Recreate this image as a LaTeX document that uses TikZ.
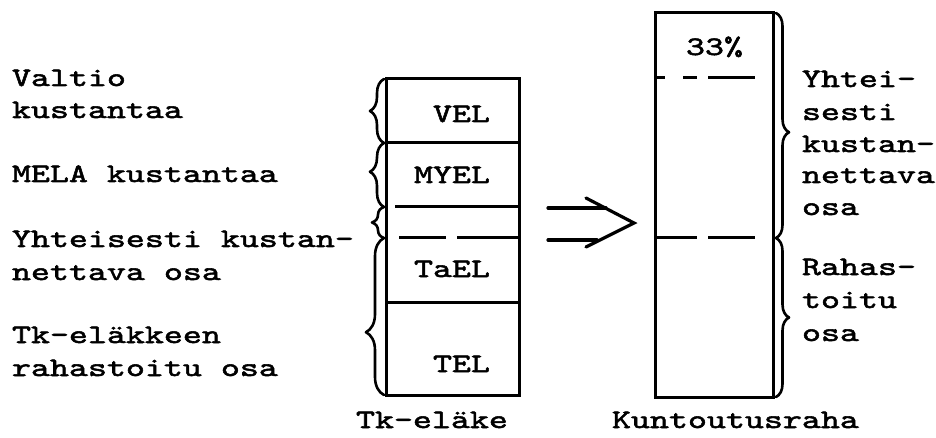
\documentclass[tikz,border=0pt]{standalone}
\usepackage{fontspec}
\setmonofont{lmmono10-regular.otf}[FakeStretch=1.36,FakeBold=2]
\usetikzlibrary{decorations.pathreplacing}
\begin{document}
\begin{tikzpicture}[x=1pt,y=-1pt,
  lbl/.style={font=\ttfamily\fontsize{26.6}{33}\selectfont, inner sep=0pt, outer sep=0pt, anchor=base west},
  lblr/.style={lbl, anchor=base east},
  frame/.style={draw, line width=3pt, inner sep=0pt, outer sep=0pt, anchor=north west},
  rule/.style={line width=3pt},
  brc/.style={decorate, decoration={brace, amplitude=#1}, line width=2.6pt, line cap=round, line join=round},
  arr/.style={line width=3.2pt, line cap=round, line join=miter}]
\useasboundingbox (0,0) rectangle (936,438);

% boxes
\node[frame, minimum width=133pt, minimum height=316pt] (tk) at (386,79) {};
\node[frame, minimum width=118pt, minimum height=384pt] (kr) at (655,13) {};

% dividers of left box
\draw[rule] (386,143) -- (519,143);
\draw[rule] (395,207) -- (519,207);
\draw[rule] (399,238) -- (446,238) (457,238) -- (519,238);
\draw[rule] (386,302) -- (519,302);

% dividers of right box
\draw[rule] (655,78) -- (665,78) (683,78) -- (697,78) (708,78) -- (755,78);
\draw[rule] (655,238) -- (697,238) (708,238) -- (755,238);

% box texts
\node[lblr] (vel) at (490,122) {VEL};
\node[lblr] (myel) at (490,183) {MYEL};
\node[lblr] (tael) at (490,277) {TaEL};
\node[lblr] (tel) at (490,372) {TEL};
\node[lbl] (pct) at (686,55) {33\%};

% left braces
\draw[brc=14pt, decoration={aspect=0.5}] (384,143) -- (384,79);
\draw[brc=14pt, decoration={aspect=0.55}] (384,207) -- (384,143);
\draw[brc=12pt, decoration={aspect=0.5}] (384,238) -- (384,207);
\draw[brc=18pt, decoration={aspect=0.4}] (384,395) -- (384,238);

% right braces
\draw[brc=13pt, decoration={aspect=0.53}] (776,13) -- (776,238);
\draw[brc=13pt, decoration={aspect=0.5}] (776,238) -- (776,397);

% arrow
\coordinate (a1) at (548,208);
\coordinate (a2) at (548,240);
\coordinate (tip) at (634,223);
\draw[arr] (a1) -- (606,208);
\draw[arr] (a2) -- (597,240);
\draw[arr] (586,198) -- (tip) -- (586,247);

% left labels
\node[lbl] (l1) at (12,86) {Valtio};
\node[lbl] (l2) at (12,118) {kustantaa};
\node[lbl] (l3) at (12,182) {MELA kustantaa};
\node[lbl] (l4) at (12,247) {Yhteisesti kustan-};
\node[lbl] (l5) at (12,280) {nettava osa};
\node[lbl] (l6) at (12,343) {Tk-eläkkeen};
\node[lbl] (l7) at (12,376) {rahastoitu osa};

% right labels
\node[lbl] (r1) at (802,87) {Yhtei-};
\node[lbl] (r2) at (802,120) {sesti};
\node[lbl] (r3) at (802,152) {kustan-};
\node[lbl] (r4) at (802,183) {nettava};
\node[lbl] (r5) at (802,215) {osa};
\node[lbl] (r6) at (802,275) {Rahas-};
\node[lbl] (r7) at (802,308) {toitu};
\node[lbl] (r8) at (802,341) {osa};

% bottom labels
\node[lbl] (b1) at (356,428) {Tk-eläke};
\node[lbl] (b2) at (612,428) {Kuntoutusraha};
\end{tikzpicture}
\end{document}
